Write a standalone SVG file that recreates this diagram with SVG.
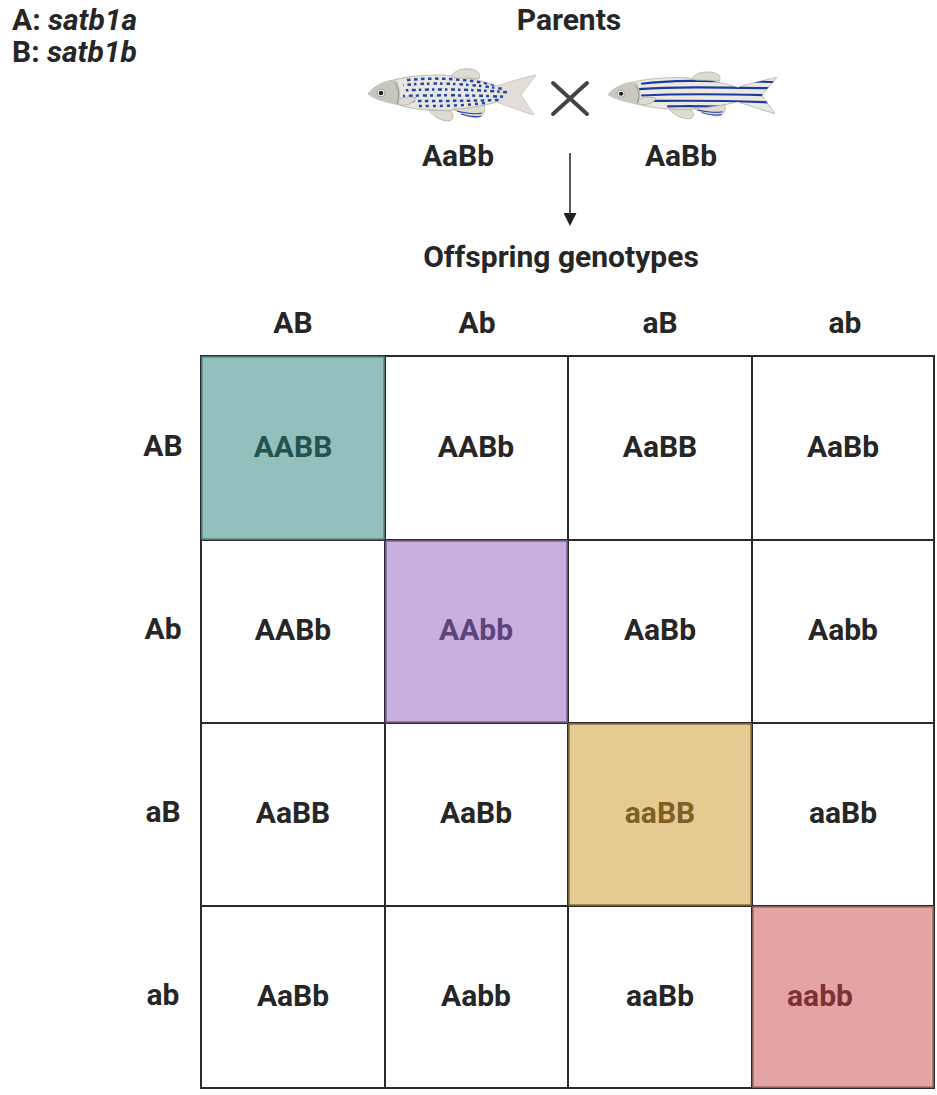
<svg xmlns="http://www.w3.org/2000/svg" width="937" height="1095" viewBox="0 0 937 1095">
  <style>
    text { font-family: Roboto, "Liberation Sans", sans-serif; font-weight: 700; font-size: 30px; fill: #262626; }
    .mid { text-anchor: middle; }
    .grid { fill: #ffffff; stroke: #2b2b2b; stroke-width: 2; }
    .fishbody { stroke: #a3a198; stroke-width: 0.7; }
    .fin { fill: #dddbd2; stroke: #a8a69e; stroke-width: 0.7; }
  </style>
  <defs>
    <!-- zebrafish silhouette, local coordinates 0..170 x 0..50 -->
    <path id="body" d="M1,24 C7,16 15,12 26,10 C42,6 58,5 74,5 C94,6 114,10 130,16 C142,12 155,8 169,5 C164,12 158,19 154,25 C158,31 163,38 167,45 C154,41 141,36 130,32 C116,36 102,39 88,40 C68,41 48,40 32,35 C19,32 7,29 1,24 Z"/>
    <clipPath id="bodyClip"><use href="#body"/></clipPath>
    <marker id="arrowHead" viewBox="0 0 10 10" refX="0" refY="5" markerWidth="15" markerHeight="13" markerUnits="userSpaceOnUse" orient="auto">
      <path d="M0,0 L10,5 L0,10 Z" fill="#222"/>
    </marker>
    <g id="fins">
      <path class="fin" d="M84,7 C87,1 94,-2 103,-1 C110,0 114,3 112,9 C105,8 97,8 90,8 Z"/>
      <path class="fin" d="M86,39 C94,43 101,47 110,48 C117,47 119,40 117,35 C108,37 97,39 86,39 Z"/>
      <path class="fin" d="M62,40 C66,46 73,51 82,51 C87,50 87,45 84,41 Z"/>
      <path class="fin" d="M30,30 C35,27 43,26 49,28 C47,33 40,36 33,35 Z"/>
      <path d="M28,13 C32,19 33,27 30,34" fill="none" stroke="#8e8c85" stroke-width="0.9"/>
    </g>
    <path id="head" d="M1,24 C7,16 15,12 26,10 L30,11 C34,19 34,28 30,35 C19,32 7,29 1,24 Z"/>
  </defs>

  <!-- legend -->
  <g id="legend">
    <text x="12" y="30">A: <tspan font-style="italic">satb1a</tspan></text>
    <text x="12" y="62">B: <tspan font-style="italic">satb1b</tspan></text>
  </g>

  <!-- parents -->
  <g id="parents">
    <text class="mid" x="569" y="30">Parents</text>

    <g id="fish-spotted" transform="translate(367,70)">
      <use href="#body" fill="#e8e6df" class="fishbody"/>
      <g clip-path="url(#bodyClip)">
        <use href="#head" fill="#c6c5be"/>
        <path d="M130,16 C142,12 155,8 169,5 L170,46 C154,41 141,36 130,32 Z" fill="#e0ded6"/>
        <g stroke="#2145ac" stroke-width="2.5" fill="none">
          <path d="M40,10 C70,7 100,9 128,15" stroke-dasharray="3.5 3.5"/>
          <path d="M36,15 C70,12 105,14 136,19" stroke-dasharray="2.5 4 3.5 3" stroke-dashoffset="2"/>
          <path d="M36,20.5 C70,18.5 110,19.5 142,22.5" stroke-dasharray="4 3 2.5 3.5" stroke-dashoffset="4"/>
          <path d="M36,26 C70,25 110,25 140,27" stroke-dasharray="3 4 4 3" stroke-dashoffset="1"/>
          <path d="M40,31 C70,31 100,31 132,30" stroke-dasharray="3.5 3.5" stroke-dashoffset="3"/>
          <path d="M52,36 C70,36 95,36 118,33" stroke-dasharray="3 4"/>
        </g>
      </g>
      <use href="#fins"/>
      <g stroke="#2145ac" stroke-width="1.1" fill="none">
        <path d="M90,41 C98,43 107,45 115,43"/>
        <path d="M94,44 C102,47 109,47 114,46"/>
      </g>
      <circle cx="14" cy="23" r="3.8" fill="#fff" stroke="#777" stroke-width="0.6"/>
      <circle cx="14" cy="23" r="2.3" fill="#222"/>
    </g>

    <g id="cross" stroke="#444" stroke-width="4" stroke-linecap="round">
      <line x1="553" y1="83" x2="587" y2="114"/>
      <line x1="587" y1="83" x2="553" y2="114"/>
    </g>

    <g id="fish-striped" transform="translate(607,73) scale(1.005,0.9)">
      <use href="#body" fill="#ece9e0" class="fishbody"/>
      <g clip-path="url(#bodyClip)">
        <use href="#head" fill="#cbc8bf"/>
        <g stroke="#1d3b9e" stroke-width="2.4" fill="none">
          <path d="M34,12 C70,7 110,9 170,10"/>
          <path d="M32,18 C70,15 110,16 170,17"/>
          <path d="M34,25 C70,23 110,23 170,25"/>
          <path d="M38,31 C70,31 110,30 170,33"/>
          <path d="M60,37 C80,37 105,36 140,39"/>
        </g>
      </g>
      <use href="#fins"/>
      <g stroke="#1d3b9e" stroke-width="1.1" fill="none">
        <path d="M90,41 C98,43 107,45 115,43"/>
        <path d="M94,44 C102,47 109,47 114,46"/>
      </g>
      <circle cx="14" cy="23" r="3.8" fill="#fff" stroke="#777" stroke-width="0.6"/>
      <circle cx="14" cy="23" r="2.3" fill="#222"/>
    </g>

    <text class="mid" x="458" y="166">AaBb</text>
    <text class="mid" x="681" y="166">AaBb</text>
  </g>

  <!-- connector -->
  <g id="connectors">
    <line x1="570" y1="153" x2="570" y2="213" stroke="#222" stroke-width="1.5" marker-end="url(#arrowHead)"/>
  </g>

  <text class="mid" x="561" y="267">Offspring genotypes</text>

  <!-- column headers -->
  <g id="col-headers">
    <text class="mid" x="293" y="333">AB</text>
    <text class="mid" x="477" y="333">Ab</text>
    <text class="mid" x="660" y="333">aB</text>
    <text class="mid" x="845" y="333">ab</text>
  </g>

  <!-- row headers -->
  <g id="row-headers">
    <text class="mid" x="163" y="456">AB</text>
    <text class="mid" x="163" y="639">Ab</text>
    <text class="mid" x="163" y="822">aB</text>
    <text class="mid" x="163" y="1005">ab</text>
  </g>

  <!-- punnett grid -->
  <g id="grid">
    <rect class="grid" x="201" y="356" width="733" height="732"/>
    <g stroke="#2b2b2b" stroke-width="2">
      <line x1="385" y1="356" x2="385" y2="1088"/>
      <line x1="568" y1="356" x2="568" y2="1088"/>
      <line x1="752" y1="356" x2="752" y2="1088"/>
      <line x1="201" y1="540" x2="934" y2="540"/>
      <line x1="201" y1="723" x2="934" y2="723"/>
      <line x1="201" y1="906" x2="934" y2="906"/>
    </g>
  </g>

  <g id="cell-AABB">
    <rect x="202" y="357" width="182" height="182" fill="#93c0bc" stroke="#5d8a86" stroke-width="1.5"/>
    <text class="mid" x="293" y="457" style="fill:#24524e">AABB</text>
  </g>
  <g id="cell-AAbb">
    <rect x="386" y="541" width="181" height="181" fill="#c8afdf" stroke="#7c6695" stroke-width="1.5"/>
    <text class="mid" x="476" y="640" style="fill:#5c4578">AAbb</text>
  </g>
  <g id="cell-aaBB">
    <rect x="569" y="724" width="182" height="181" fill="#e5cb92" stroke="#8c7345" stroke-width="1.5"/>
    <text class="mid" x="660" y="823" style="fill:#7d6025">aaBB</text>
  </g>
  <g id="cell-aabb">
    <rect x="753" y="907" width="180" height="180" fill="#e4a4a4" stroke="#a06e70" stroke-width="1.5"/>
    <text class="mid" x="820" y="1006" style="fill:#7e3035">aabb</text>
  </g>

  <!-- remaining cells -->
  <g id="cells">
    <text class="mid" x="476" y="457">AABb</text>
    <text class="mid" x="660" y="457">AaBB</text>
    <text class="mid" x="843" y="457">AaBb</text>

    <text class="mid" x="293" y="640">AABb</text>
    <text class="mid" x="660" y="640">AaBb</text>
    <text class="mid" x="843" y="640">Aabb</text>

    <text class="mid" x="293" y="823">AaBB</text>
    <text class="mid" x="476" y="823">AaBb</text>
    <text class="mid" x="843" y="823">aaBb</text>

    <text class="mid" x="293" y="1006">AaBb</text>
    <text class="mid" x="476" y="1006">Aabb</text>
    <text class="mid" x="660" y="1006">aaBb</text>
  </g>
</svg>
